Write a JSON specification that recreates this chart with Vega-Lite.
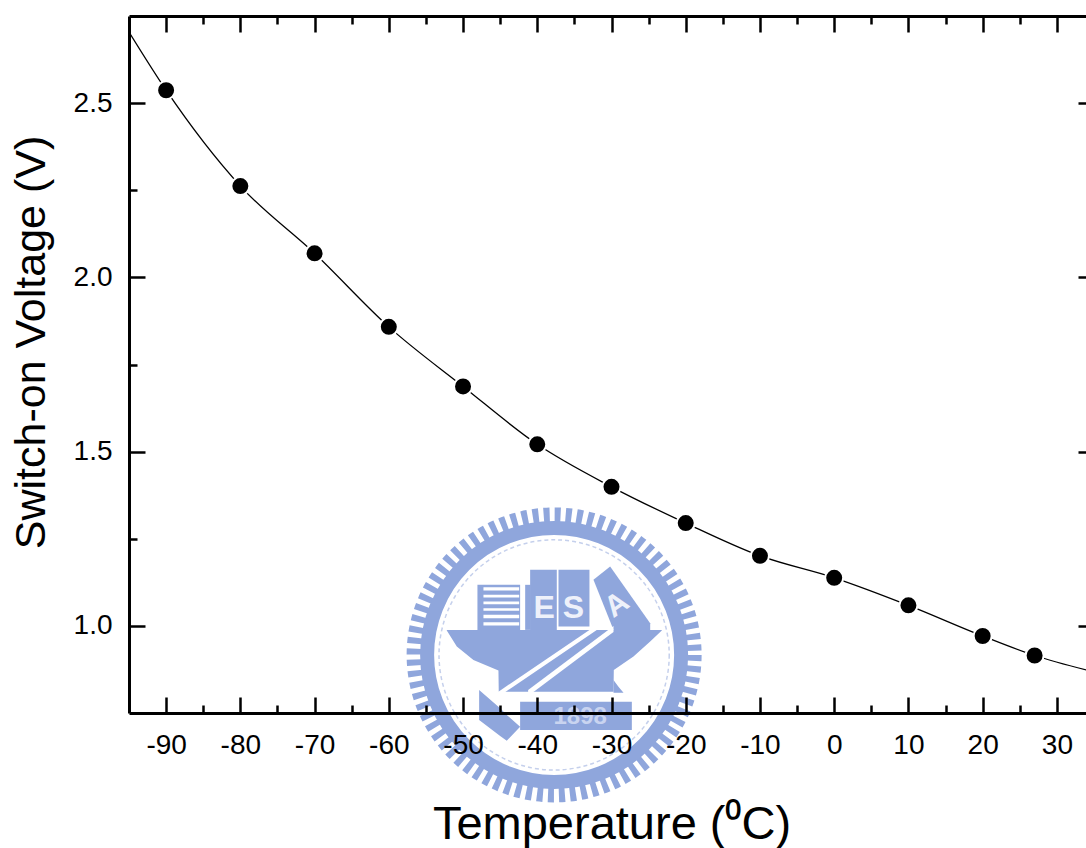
{"$schema":"https://vega.github.io/schema/vega-lite/v6.json","width":965,"height":697,"autosize":"none","padding":{"left":129,"top":16,"right":0,"bottom":135},"background":"white","config":{"view":{"stroke":null},"font":"Liberation Sans","axis":{"grid":false}},"datasets":{"points":[{"x":-90,"y":2.537},{"x":-80,"y":2.262},{"x":-70,"y":2.069},{"x":-60,"y":1.858},{"x":-50,"y":1.687},{"x":-40,"y":1.521},{"x":-30,"y":1.399},{"x":-20,"y":1.295},{"x":-10,"y":1.201},{"x":0,"y":1.138},{"x":10,"y":1.059},{"x":20,"y":0.971},{"x":27,"y":0.915}],"curve":[{"x":-95,"y":2.704},{"x":-90,"y":2.537},{"x":-80,"y":2.262},{"x":-70,"y":2.069},{"x":-60,"y":1.858},{"x":-50,"y":1.687},{"x":-40,"y":1.521},{"x":-30,"y":1.399},{"x":-20,"y":1.295},{"x":-10,"y":1.201},{"x":0,"y":1.138},{"x":10,"y":1.059},{"x":20,"y":0.971},{"x":27,"y":0.915},{"x":35,"y":0.868}],"center":[{"x":-37.73,"y":0.9166}],"blueRects":[{"x":-48.06,"x2":-42.31,"y":1.1178,"y2":0.9885},{"x":-41.63,"x2":-40.87,"y":1.1178,"y2":0.9885},{"x":-40.96,"x2":-37.37,"y":1.1609,"y2":0.9885},{"x":-37.14,"x2":-32.97,"y":1.1609,"y2":0.9981},{"x":-42.31,"x2":-27.26,"y":0.7825,"y2":0.7011}],"whiteRects":[{"x":-47.25,"x2":-42.44,"y":1.1111,"y2":1.1015},{"x":-47.25,"x2":-42.44,"y":1.0891,"y2":1.0814},{"x":-47.25,"x2":-42.44,"y":1.0699,"y2":1.0622},{"x":-47.25,"x2":-42.44,"y":1.0508,"y2":1.0431},{"x":-47.25,"x2":-42.44,"y":1.0316,"y2":1.022},{"x":-47.25,"x2":-42.44,"y":1.0105,"y2":1.0009}],"blueAreas":[{"p":"book","x":-32.43,"y":1.1322,"y2":1.1322},{"p":"book","x":-30.18,"y":1.1705,"y2":1.0124},{"p":"book","x":-29.73,"y":1.1571,"y2":0.9885},{"p":"book","x":-24.79,"y":1.0076,"y2":0.9885},{"p":"anvil","x":-52.19,"y":0.9885,"y2":0.9866},{"p":"anvil","x":-50.84,"y":0.9885,"y2":0.9406},{"p":"anvil","x":-48.6,"y":0.9885,"y2":0.9023},{"p":"anvil","x":-45.23,"y":0.9885,"y2":0.8716},{"p":"anvil","x":-45.19,"y":0.9885,"y2":0.8113},{"p":"anvil","x":-29.73,"y":0.9885,"y2":0.8113},{"p":"anvil","x":-29.69,"y":0.9885,"y2":0.8735},{"p":"anvil","x":-27.04,"y":0.9885,"y2":0.9118},{"p":"anvil","x":-24.79,"y":0.9885,"y2":0.955},{"p":"anvil","x":-23.22,"y":0.9885,"y2":0.9866},{"p":"foot","x":-29.73,"y":0.8448,"y2":0.8084},{"p":"foot","x":-29.06,"y":0.8256,"y2":0.8084},{"p":"foot","x":-28.38,"y":0.8084,"y2":0.8084},{"p":"pen","x":-47.83,"y":0.816,"y2":0.7298},{"p":"pen","x":-45,"y":0.7633,"y2":0.6838},{"p":"pen","x":-44.11,"y":0.7442,"y2":0.6704},{"p":"pen","x":-42.31,"y":0.7107,"y2":0.7107}],"whiteAreas":[{"p":"upper","x":-45.23,"y":0.8113,"y2":0.7969},{"p":"upper","x":-30.99,"y":1.0172,"y2":1.0028},{"p":"lower","x":-41.23,"y":0.816,"y2":0.7988},{"p":"lower","x":-29.73,"y":1.0,"y2":0.9827}],"letters":[{"x":-39.07,"y":1.0508,"t":"E"},{"x":-35.12,"y":1.0508,"t":"S"}],"year":[{"x":-34.22,"y":0.7394,"t":"1898"}],"letterA":[{"x":-29.28,"y":1.0603,"t":"A"}]},"resolve":{"axis":{"x":"independent","y":"independent"}},"layer":[{"data":{"name":"center"},"mark":{"type":"point","shape":"circle","filled":false,"size":78400,"stroke":"#8fa6dc","strokeWidth":15,"strokeDash":[6,5],"opacity":1},"encoding":{"x":{"field":"x","type":"quantitative","scale":{"domain":[-95,35],"nice":false,"zero":false},"axis":{"orient":"bottom","title":"Temperature (⁰C)","titleFontSize":47,"titleFontWeight":"normal","titleColor":"black","titleFont":"Liberation Sans","titleY":88,"values":[-90,-85,-80,-75,-70,-65,-60,-55,-50,-45,-40,-35,-30,-25,-20,-15,-10,-5,0,5,10,15,20,25,30],"labelExpr":"datum.value % 10 === 0 ? '' + datum.value : ''","labelFontSize":28,"labelColor":"black","labelFont":"Liberation Sans","labelPadding":34,"labelOverlap":false,"tickSize":{"condition":{"test":"datum.value % 10 === 0","value":-16},"value":-8},"tickColor":"black","tickWidth":2.5,"domainColor":"black","domainWidth":3,"zindex":1}},"y":{"field":"y","type":"quantitative","scale":{"domain":[0.75,2.75],"nice":false,"zero":false},"axis":{"orient":"left","title":"Switch-on Voltage (V)","titleFontSize":43,"titleFontWeight":"normal","titleColor":"black","titleFont":"Liberation Sans","titleX":-76,"titleY":326,"values":[1,1.25,1.5,1.75,2,2.25,2.5],"labelExpr":"datum.value * 2 % 1 === 0 ? format(datum.value, '.1f') : ''","labelFontSize":28,"labelColor":"black","labelFont":"Liberation Sans","labelPadding":33,"labelOverlap":false,"tickSize":{"condition":{"test":"datum.value * 2 % 1 === 0","value":-16},"value":-8},"tickColor":"black","tickWidth":2.5,"domainColor":"black","domainWidth":3,"zindex":1}}}},{"data":{"name":"center"},"mark":{"type":"point","shape":"circle","filled":false,"size":64516,"stroke":"#8fa6dc","strokeWidth":14,"opacity":1},"encoding":{"x":{"field":"x","type":"quantitative","axis":{"orient":"top","title":null,"values":[-90,-85,-80,-75,-70,-65,-60,-55,-50,-45,-40,-35,-30,-25,-20,-15,-10,-5,0,5,10,15,20,25,30],"labels":false,"tickSize":{"condition":{"test":"datum.value % 10 === 0","value":-16},"value":-8},"tickColor":"black","tickWidth":2.5,"domainColor":"black","domainWidth":3,"zindex":1}},"y":{"field":"y","type":"quantitative","axis":{"orient":"right","title":null,"values":[1,1.25,1.5,1.75,2,2.25,2.5],"labels":false,"tickSize":{"condition":{"test":"datum.value * 2 % 1 === 0","value":-16},"value":-8},"tickColor":"black","tickWidth":2.5,"domainColor":"black","domainWidth":3,"zindex":1}}}},{"data":{"name":"center"},"mark":{"type":"point","shape":"circle","filled":false,"size":53000,"stroke":"#c5d0ec","strokeWidth":1.5,"strokeDash":[4,3],"opacity":1},"encoding":{"x":{"field":"x","type":"quantitative","axis":null},"y":{"field":"y","type":"quantitative","axis":null}}},{"data":{"name":"blueRects"},"mark":{"type":"rect","color":"#8fa6dc","opacity":1},"encoding":{"x":{"field":"x","type":"quantitative","axis":null},"x2":{"field":"x2"},"y":{"field":"y","type":"quantitative","axis":null},"y2":{"field":"y2"}}},{"data":{"name":"blueAreas"},"mark":{"type":"area","color":"#8fa6dc","opacity":1},"encoding":{"x":{"field":"x","type":"quantitative","axis":null},"y":{"field":"y","type":"quantitative","axis":null},"y2":{"field":"y2"},"detail":{"field":"p"}}},{"data":{"name":"whiteRects"},"mark":{"type":"rect","color":"white","opacity":1},"encoding":{"x":{"field":"x","type":"quantitative","axis":null},"x2":{"field":"x2"},"y":{"field":"y","type":"quantitative","axis":null},"y2":{"field":"y2"}}},{"data":{"name":"whiteAreas"},"mark":{"type":"area","color":"white","opacity":1},"encoding":{"x":{"field":"x","type":"quantitative","axis":null},"y":{"field":"y","type":"quantitative","axis":null},"y2":{"field":"y2"},"detail":{"field":"p"}}},{"data":{"name":"letters"},"mark":{"type":"text","color":"#eef1fa","fontSize":32,"fontWeight":"bold","font":"Liberation Sans","baseline":"middle"},"encoding":{"x":{"field":"x","type":"quantitative","axis":null},"y":{"field":"y","type":"quantitative","axis":null},"text":{"field":"t"}}},{"data":{"name":"year"},"mark":{"type":"text","color":"#c9d4f0","fontSize":24,"fontWeight":"bold","font":"Liberation Sans","baseline":"middle"},"encoding":{"x":{"field":"x","type":"quantitative","axis":null},"y":{"field":"y","type":"quantitative","axis":null},"text":{"field":"t"}}},{"data":{"name":"letterA"},"mark":{"type":"text","color":"#eef1fa","fontSize":30,"fontWeight":"bold","font":"Liberation Sans","baseline":"middle","angle":-35},"encoding":{"x":{"field":"x","type":"quantitative","axis":null},"y":{"field":"y","type":"quantitative","axis":null},"text":{"field":"t"}}},{"data":{"name":"curve"},"mark":{"type":"line","interpolate":"monotone","color":"black","strokeWidth":1.3,"clip":true},"encoding":{"x":{"field":"x","type":"quantitative","axis":null},"y":{"field":"y","type":"quantitative","axis":null}}},{"data":{"name":"points"},"mark":{"type":"point","shape":"circle","filled":true,"size":324,"fill":"black","stroke":"white","strokeWidth":2,"opacity":1},"encoding":{"x":{"field":"x","type":"quantitative","axis":null},"y":{"field":"y","type":"quantitative","axis":null}}}]}
